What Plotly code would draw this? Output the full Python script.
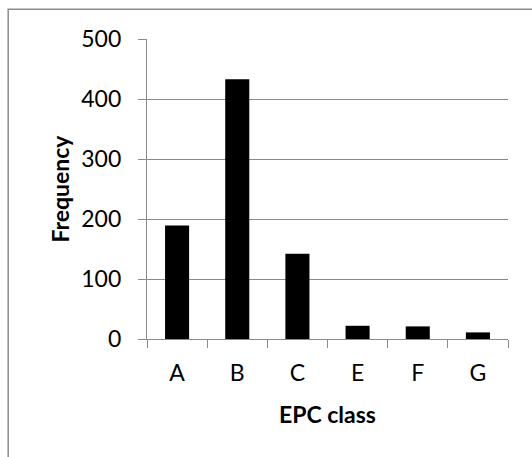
import plotly.graph_objects as go

categories = ["A", "B", "C", "E", "F", "G"]
frequency = [189, 433, 142, 22, 21, 11]
y_ticks = [0, 100, 200, 300, 400, 500]

W, H = 532, 457
ml, mr, mt, mb = 146.5, 24, 38.7, 118.3
pw = W - ml - mr
ph = H - mt - mb

def px_x(x):
    return (x - ml) / pw

def px_y(y):
    return (H - mb - y) / ph

grid = "#8a8a8a"
font = "Lato, Carlito, 'Open Sans', sans-serif"
fs = 23

fig = go.Figure(go.Bar(x=categories, y=frequency, marker=dict(color="black", line=dict(width=0)), width=0.4))

fig.update_layout(
    width=W, height=H,
    margin=dict(l=ml, r=mr, t=mt, b=mb, pad=0),
    paper_bgcolor="white", plot_bgcolor="white",
    showlegend=False,
    font=dict(family=font, size=fs, color="black"),
    xaxis=dict(
        type="category", range=[-0.5, 5.5],
        showline=True, linecolor=grid, linewidth=1.3,
        ticks="outside", tickson="boundaries", ticklen=8, tickcolor=grid, tickwidth=1.3,
        showgrid=False, ticklabelstandoff=13,
        tickfont=dict(size=fs),
    ),
    yaxis=dict(
        range=[0, 500], tickvals=y_ticks,
        showline=True, linecolor=grid, linewidth=1.3,
        ticks="outside", ticklen=8, tickcolor=grid, tickwidth=1.3,
        showgrid=True, gridcolor=grid, gridwidth=1.3,
        zeroline=False, ticklabelstandoff=12,
        tickfont=dict(size=fs),
    ),
    annotations=[
        dict(text="<b>Frequency</b>", xref="paper", yref="paper", x=px_x(59), y=0.5,
             textangle=-90, showarrow=False, font=dict(size=fs), xanchor="center", yanchor="middle"),
        dict(text="<b>EPC class</b>", xref="paper", yref="paper", x=0.5, y=px_y(414),
             showarrow=False, font=dict(size=fs), xanchor="center", yanchor="middle"),
    ],
    shapes=[
        dict(type="rect", xref="paper", yref="paper", x0=px_x(7.5), y0=px_y(470), x1=px_x(545), y1=px_y(9),
             line=dict(color="#8c8c8c", width=1.5), fillcolor="rgba(0,0,0,0)", layer="below"),
    ],
)

fig.write_html("out.html", config={"displayModeBar": False},
               post_script="document.body.style.margin='0';document.body.style.overflow='hidden';")
